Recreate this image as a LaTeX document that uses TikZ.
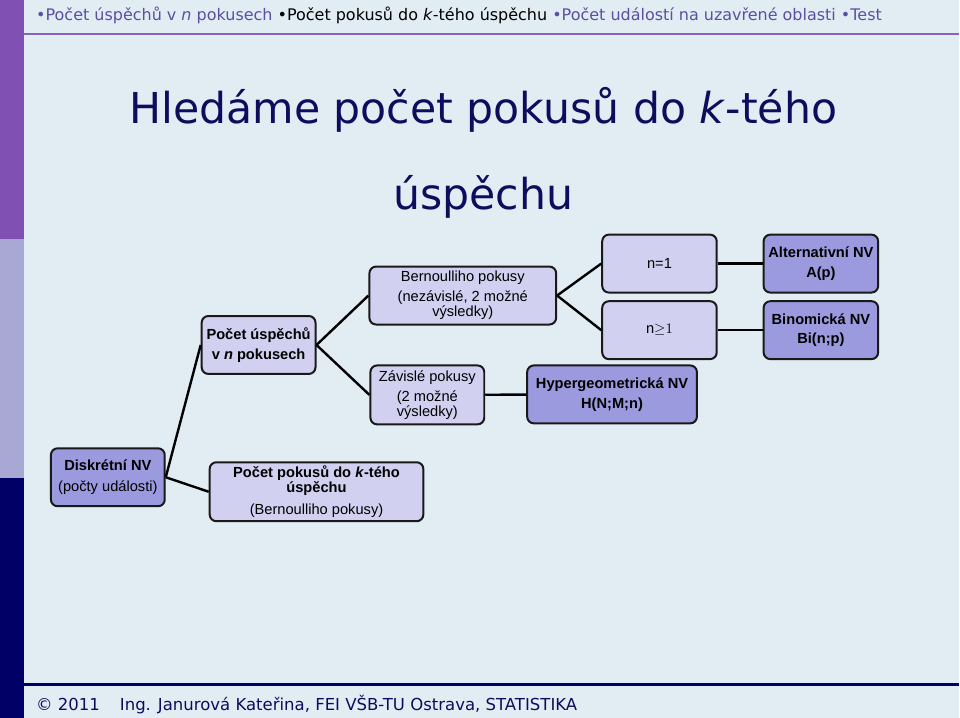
\documentclass[tikz,border=0pt]{standalone}
\usepackage{fontspec}
\setmainfont{Liberation Sans}
\newfontfamily\slidefont{DejaVu Sans}
\usetikzlibrary{positioning}

\definecolor{slidebg}{HTML}{E1EDF3}
\definecolor{barpurple}{HTML}{8050B2}
\definecolor{barlilac}{HTML}{A9A7D3}
\definecolor{barnavy}{HTML}{000066}
\definecolor{rulepurple}{HTML}{8A62B8}
\definecolor{titlenavy}{HTML}{0D0D5E}
\definecolor{navpurple}{HTML}{5C4FA3}
\definecolor{lightfill}{HTML}{D1D0F0}
\definecolor{darkfill}{HTML}{9C9ADF}

\begin{document}
\begin{tikzpicture}[x=0.75pt, y=-0.75pt,
    node distance=33.75pt and 33.75pt,
    box/.style={rectangle, draw=black!90, line width=1.5pt, rounded corners=5pt, align=center, inner sep=0pt, minimum height=43.5pt, font=\fontsize{11}{15}\selectfont},
    lightbox/.style={box, fill=lightfill},
    darkbox/.style={box, fill=darkfill, font=\fontsize{11}{15}\selectfont\bfseries},
    link/.style={line width=1.8pt}
  ]

  % slide frame
  \fill[slidebg] (0,0) rectangle (960,719);
  \fill[barpurple] (0,0) rectangle (24,239);
  \fill[barlilac] (0,239) rectangle (24,479);
  \fill[barnavy] (0,479) rectangle (24,719);
  \draw[rulepurple, line width=2pt] (24,34) -- (960,34);
  \draw[barnavy, line width=2.25pt] (24,686) -- (960,686);

  \node[anchor=base west, inner sep=0pt, font=\slidefont\fontsize{12}{14}\selectfont] (nav) at (36,21)
    {\textcolor{navpurple}{•Počet úspěchů v \textit{n} pokusech} \textcolor{black}{•Počet pokusů do \textit{k}-tého úspěchu} \textcolor{navpurple}{•Počet událostí na uzavřené oblasti •Test}};
  \node[anchor=base west, inner sep=0pt, text=titlenavy, font=\slidefont\fontsize{12.4}{14}\selectfont] (foot) at (36,712)
    {© 2011\hspace*{15pt}Ing. Janurová Kateřina, FEI VŠB-TU Ostrava, STATISTIKA};

  \node[anchor=base, inner sep=0pt, text=titlenavy, font=\slidefont\fontsize{32}{36}\selectfont] (title1) at (484,124) {Hledáme počet pokusů do \textit{k}-tého};
  \node[anchor=base, inner sep=0pt, text=titlenavy, font=\slidefont\fontsize{32}{36}\selectfont] (title2) at (484,210) {úspěchu};

  % tree of distributions
  \node[darkbox, minimum width=85.5pt, font=\fontsize{11}{15}\selectfont] (disk) at (108,478) {\textbf{Diskrétní NV}\\[1pt](počty události)};
  \node[lightbox, minimum width=85.5pt, font=\fontsize{11}{15}\selectfont\bfseries] (usp) at (259,345.5) {Počet úspěchů\\v \textit{n} pokusech};
  \node[lightbox, minimum width=160.5pt, minimum height=44.25pt] (kteho) at (317,492.5) {\textbf{Počet pokusů do \textit{k}-tého}\\[-3.75pt]\textbf{úspěchu}\\[1pt](Bernoulliho pokusy)};
  \node[lightbox, minimum width=140.25pt] (bern) at (463.5,296) {Bernoulliho pokusy\\(nezávislé, 2 možné\\[-3.75pt]výsledky)};
  \node[lightbox, minimum width=85.5pt, minimum height=44.25pt] (zav) at (428,395.5) {Závislé pokusy\\(2 možné\\[-3.75pt]výsledky)};
  \node[lightbox, minimum width=86pt] (none) at (660.5,264) {n=1};
  \node[lightbox, minimum width=86pt, below=5pt of none] (nge) {n${\geq}1$};
  \node[darkbox, minimum width=127.5pt] (hyper) at (613,395) {Hypergeometrická NV\\H(N;M;n)};
  \node[darkbox, minimum width=86pt, right=of none] (alt) {Alternativní NV\\A(p)};
  \node[darkbox, minimum width=86pt, right=of nge] (bin) {Binomická NV\\Bi(n;p)};

  \draw[link] (disk.east) -- (usp.west);
  \draw[link] (disk.east) -- (kteho.west);
  \draw[link] (usp.east) -- (bern.west);
  \draw[link] (usp.east) -- (zav.west);
  \draw[link] (bern.east) -- (none.west);
  \draw[link] (bern.east) -- (nge.west);
  \draw[link] (none) -- (alt);
  \draw[link] (nge) -- (bin);
  \draw[link] (zav) -- (hyper);

\end{tikzpicture}
\end{document}
